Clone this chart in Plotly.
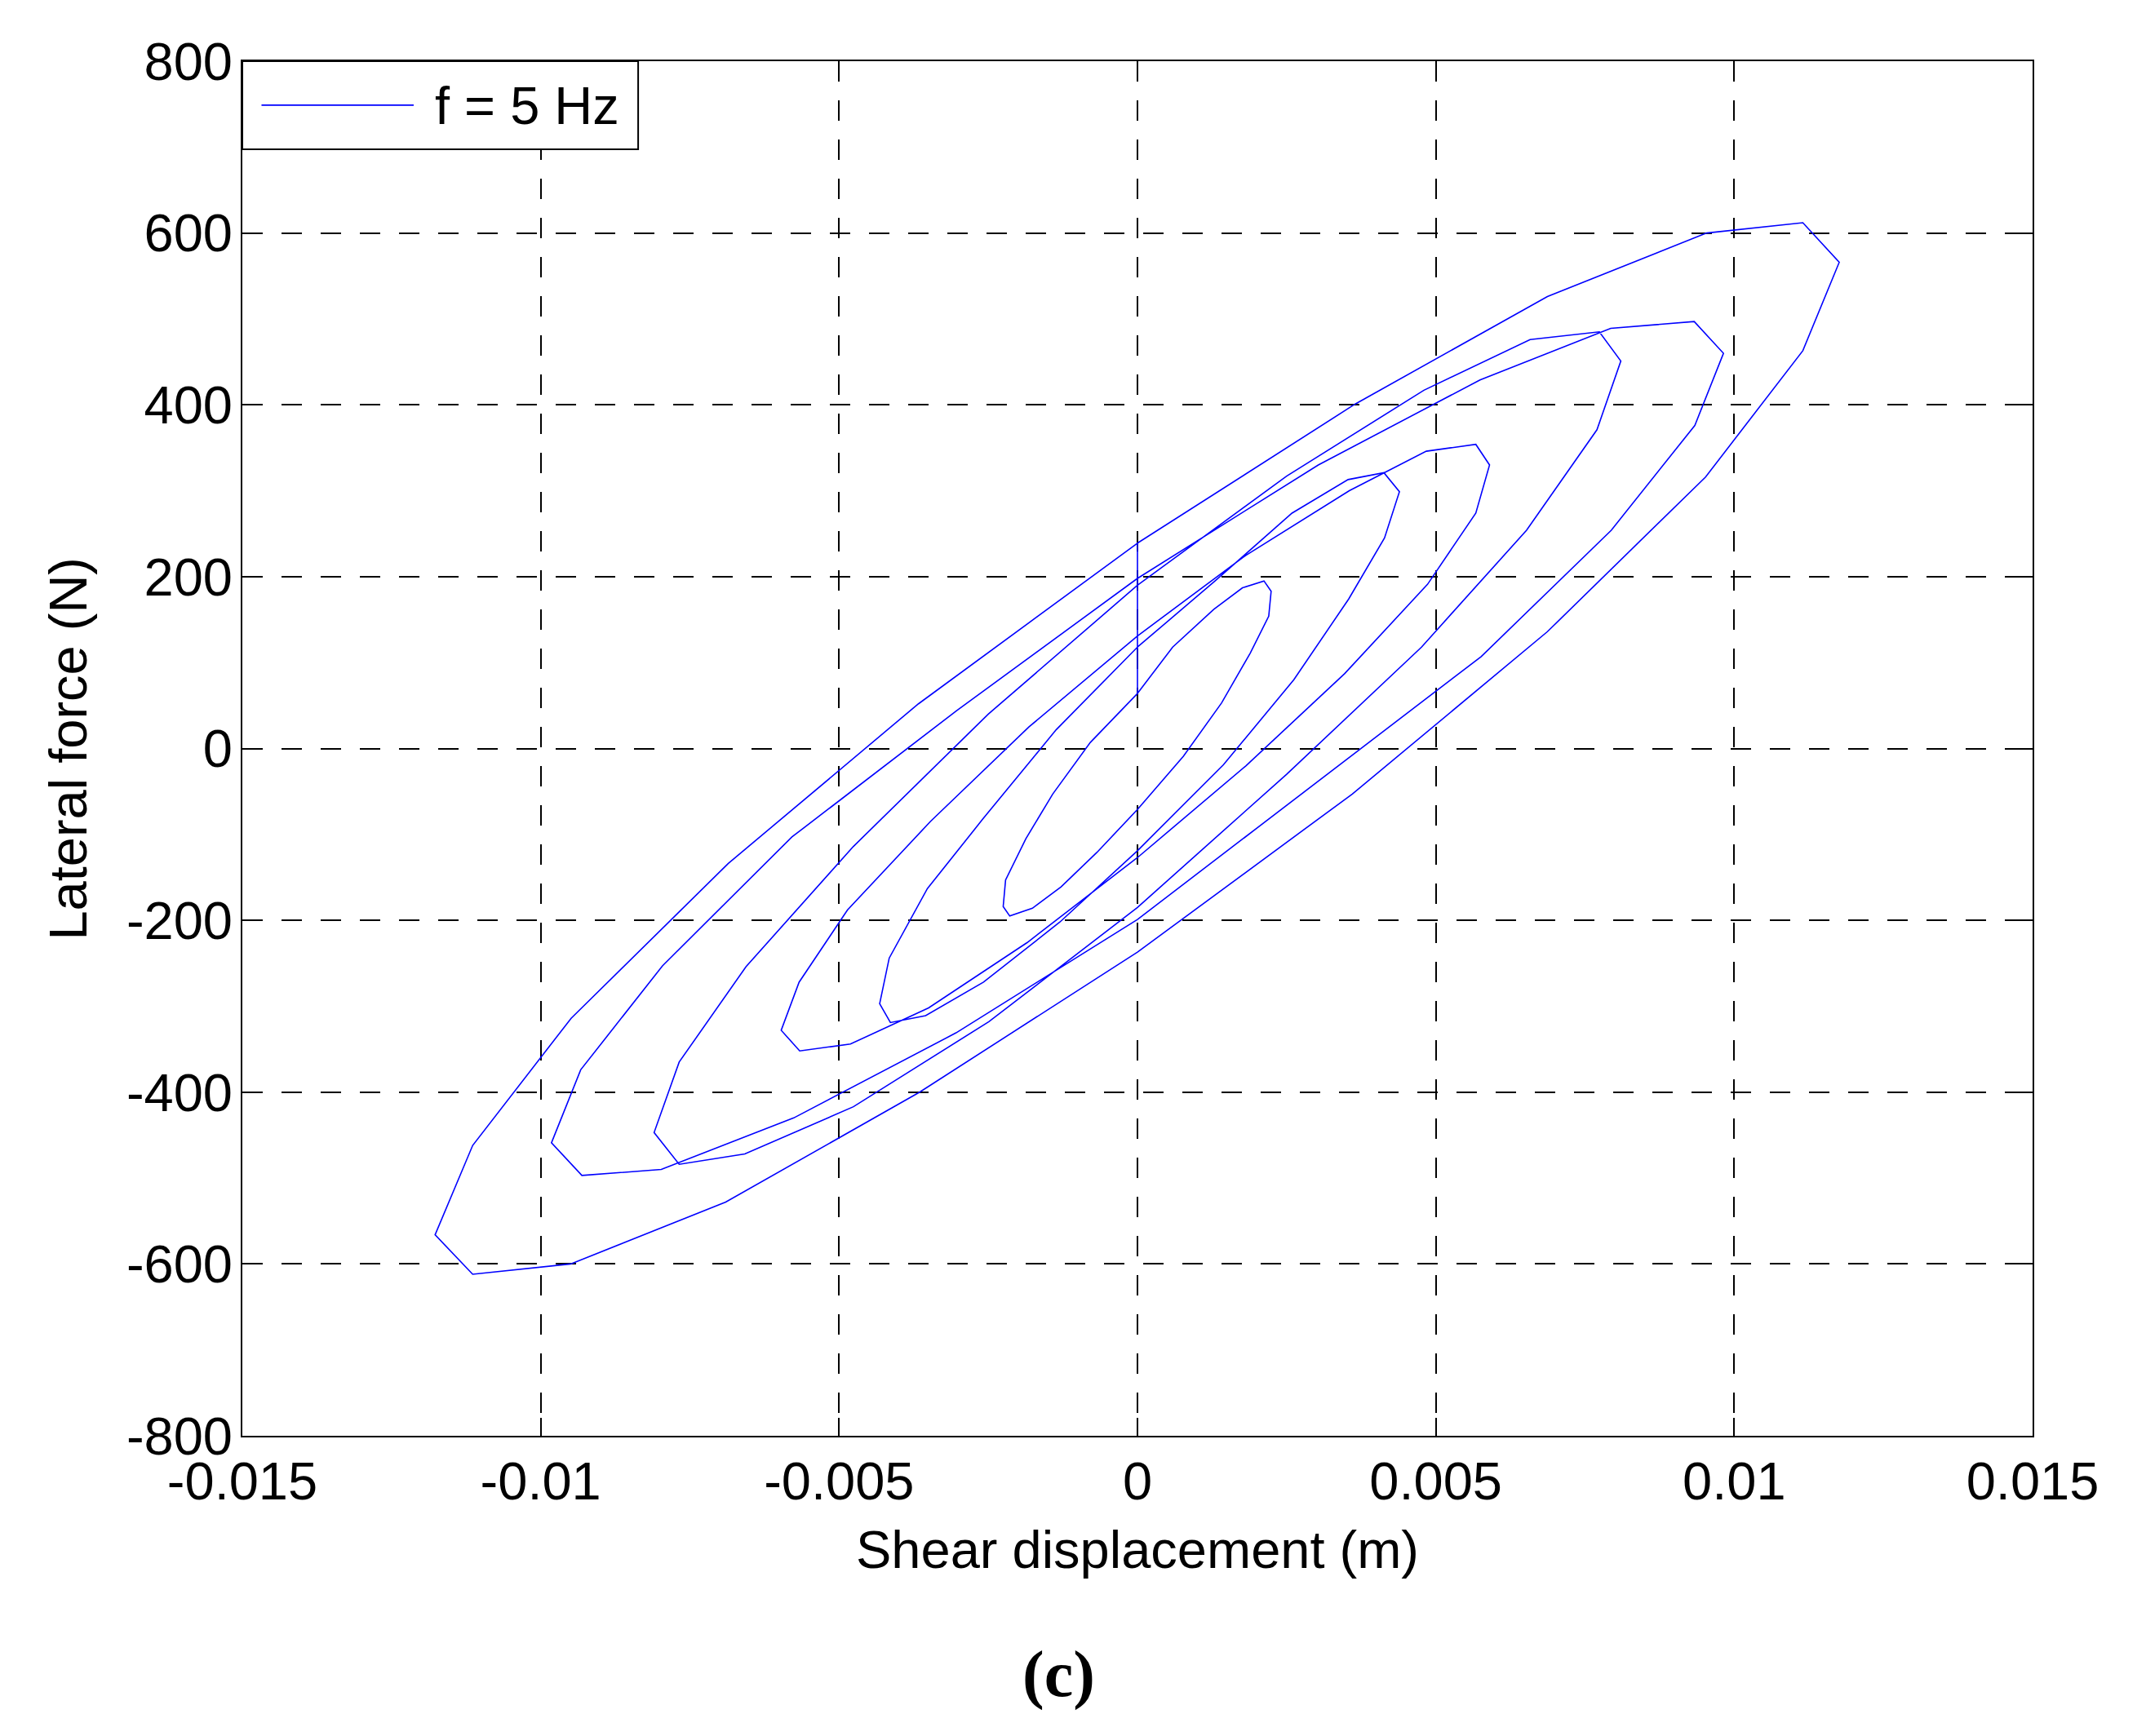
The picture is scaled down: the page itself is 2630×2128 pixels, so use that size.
import plotly.graph_objects as go

# Hysteresis loops, one list per cycle (20 samples per cycle)
loop_a_x = [0, 0.00059, 0.00128, 0.00176, 0.00212, 0.00224, 0.00220, 0.00189, 0.00141, 0.00077,
            0, -0.00068, -0.00128, -0.00176, -0.00214, -0.00225, -0.00221, -0.00187, -0.00142, -0.00079]
loop_a_y = [64, 118, 162, 187, 195, 183, 154, 111, 53, -9,
            -71, -121, -161, -186, -195, -184, -153, -105, -53, 7]

loop_b_x = [0, 0.00130, 0.00259, 0.00353, 0.00413, 0.00439, 0.00414, 0.00354, 0.00262, 0.00144,
            0, -0.00130, -0.00258, -0.00355, -0.00414, -0.00432, -0.00416, -0.00352, -0.00259, -0.00136]
loop_b_y = [118, 195, 274, 313, 321, 299, 245, 174, 80, -19,
            -119, -202, -272, -311, -319, -297, -244, -163, -82, 22]

loop_c_x = [0, 0.00182, 0.00355, 0.00484, 0.00567, 0.00590, 0.00567, 0.00486, 0.00347, 0.00182,
            0, -0.00185, -0.00350, -0.00481, -0.00566, -0.00597, -0.00567, -0.00486, -0.00347, -0.00182]
loop_c_y = [131, 225, 300, 346, 354, 330, 274, 191, 87, -20,
            -127, -226, -302, -344, -352, -328, -272, -188, -85, 25]

loop_d_x = [0, 0.00250, 0.00480, 0.00658, 0.00774, 0.00810, 0.00770, 0.00652, 0.00476, 0.00250,
            0, -0.00249, -0.00476, -0.00658, -0.00768, -0.00810, -0.00768, -0.00656, -0.00476, -0.00250]
loop_d_y = [190, 317, 417, 476, 485, 451, 371, 254, 118, -30,
            -185, -318, -417, -472, -484, -447, -365, -254, -114, 40]

loop_e_x = [0, 0.00303, 0.00574, 0.00793, 0.00933, 0.00982, 0.00934, 0.00794, 0.00576, 0.00303,
            0, -0.00304, -0.00576, -0.00798, -0.00931, -0.00982, -0.00933, -0.00796, -0.00579, -0.00303]
loop_e_y = [198, 330, 429, 489, 497, 460, 376, 254, 107, -38,
            -199, -331, -430, -490, -497, -459, -374, -253, -103, 44]

loop_f_x = [0, 0.00365, 0.00687, 0.00954, 0.01115, 0.01176, 0.01115, 0.00952, 0.00687, 0.00360,
            0, -0.00365, -0.00690, -0.00950, -0.01114, -0.01177, -0.01114, -0.00949, -0.00686, -0.00367]
loop_f_y = [239, 401, 526, 600, 612, 566, 463, 316, 136, -53,
            -237, -400, -528, -600, -612, -566, -462, -314, -134, 52]

x_ticks = [-0.015, -0.01, -0.005, 0, 0.005, 0.01, 0.015]
x_tick_labels = ['-0.015', '-0.01', '-0.005', '0', '0.005', '0.01', '0.015']
y_ticks = [-800, -600, -400, -200, 0, 200, 400, 600, 800]
y_tick_labels = ['-800', '-600', '-400', '-200', '0', '200', '400', '600', '800']

SANS = 'Liberation Sans, Arial, sans-serif'
BLUE = '#0000ff'

# one continuous record: each cycle is closed, then the next one starts at x = 0
loops = [(loop_a_x, loop_a_y), (loop_b_x, loop_b_y), (loop_c_x, loop_c_y),
         (loop_d_x, loop_d_y), (loop_e_x, loop_e_y), (loop_f_x, loop_f_y)]
x_all, y_all = [], []
for lx, ly in loops:
    x_all += lx + [lx[0]]
    y_all += ly + [ly[0]]

fig = go.Figure()
fig.add_trace(go.Scatter(
    x=x_all, y=y_all, mode='lines', name='f = 5 Hz',
    line=dict(color=BLUE, width=1.6), showlegend=False
))

axis_style = dict(
    showline=True, linecolor='black', linewidth=2, mirror='ticks',
    ticks='inside', ticklen=22, tickwidth=1.5, tickcolor='black',
    showgrid=True, gridcolor='black', gridwidth=1.6, griddash='25px,23px',
    zeroline=False,
    tickfont=dict(family=SANS, size=65, color='black')
)
fig.update_xaxes(range=[-0.015, 0.015], tickmode='array', tickvals=x_ticks,
                 ticktext=x_tick_labels, ticklabelstandoff=-2, **axis_style)
fig.update_yaxes(range=[-800, 800], tickmode='array', tickvals=y_ticks,
                 ticktext=y_tick_labels, ticklabelstandoff=-3, **axis_style)

# page body adds 8 px, so the figure is 8 px smaller; plot area ends up at 297..2491 x 75..1760
fig.update_layout(
    width=2622, height=2120,
    margin=dict(l=289, r=139, t=67, b=368),
    plot_bgcolor='white', paper_bgcolor='white',
    font=dict(family=SANS, size=65, color='black'),
    showlegend=False,
    shapes=[
        dict(type='rect', xref='paper', yref='paper', x0=0, x1=0.2211, y0=0.9359, y1=1,
             line=dict(color='black', width=2), fillcolor='white', layer='above'),
        dict(type='line', xref='paper', yref='paper', x0=0.0107, x1=0.0957, y0=0.968, y1=0.968,
             line=dict(color=BLUE, width=1.6), layer='above'),
    ],
    annotations=[
        dict(text='f = 5 Hz', xref='paper', yref='paper', x=0.1066, y=0.9674,
             xanchor='left', yanchor='middle', showarrow=False,
             font=dict(family=SANS, size=65, color='black')),
        dict(text='Shear displacement (m)', xref='paper', yref='paper', x=0.5, y=-0.083,
             xanchor='center', yanchor='middle', showarrow=False,
             font=dict(family=SANS, size=65, color='black')),
        dict(text='Lateral force (N)', xref='paper', yref='paper', x=-0.0975, y=0.5,
             xanchor='center', yanchor='middle', textangle=-90, showarrow=False,
             font=dict(family=SANS, size=65, color='black')),
        dict(text='<b>(c)</b>', xref='paper', yref='paper', x=0.4562, y=-0.1733,
             xanchor='center', yanchor='middle', showarrow=False,
             font=dict(family='Liberation Serif, Times New Roman, serif', size=80, color='black')),
    ],
)

fig.write_html('out.html', config={'displayModeBar': False})
